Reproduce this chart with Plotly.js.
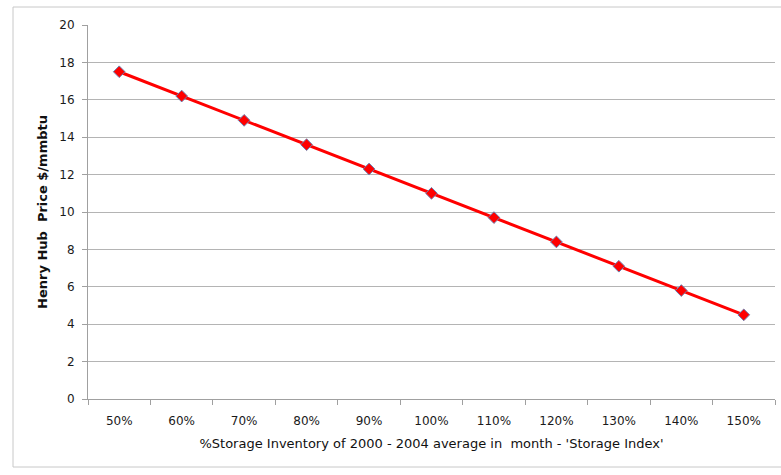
<!DOCTYPE html>
<html><head><meta charset="utf-8">
<script src="https://cdn.plot.ly/plotly-3.0.1.min.js"></script>
<style>html,body{margin:0;padding:0;background:#fff;}#chart{width:781px;height:475px;}</style>
</head><body><div id="chart"></div>
<script>
const categories = ['50%','60%','70%','80%','90%','100%','110%','120%','130%','140%','150%'];
const prices = [17.5, 16.2, 14.9, 13.6, 12.3, 11.0, 9.7, 8.4, 7.1, 5.8, 4.5];
const yTicks = [0,2,4,6,8,10,12,14,16,18,20];

const trace = {
  x: categories, y: prices, type: 'scatter', mode: 'lines+markers',
  line: {color: '#ff0000', width: 3},
  marker: {symbol: 'diamond', size: 9, color: '#ff0000', line: {color: '#6a7fb0', width: 1}},
  hoverinfo: 'skip'
};
const layout = {
  width: 781, height: 475,
  margin: {l: 88, r: 6, t: 25, b: 76},
  paper_bgcolor: '#fff', plot_bgcolor: '#fff',
  showlegend: false,
  font: {family: 'DejaVu Sans, Arial', size: 12, color: '#222'},
  xaxis: {
    type: 'category', range: [-0.5, 10.5], showgrid: false,
    showline: true, linecolor: '#a0a0a0', linewidth: 1,
    ticks: 'outside', tickson: 'boundaries', ticklen: 5, tickcolor: '#a0a0a0',
    ticklabelstandoff: 11,
    tickfont: {size: 12, color: '#1a1a1a'},
    title: {text: "%Storage Inventory of 2000 - 2004 average in  month - 'Storage Index'", font: {size: 13, color: '#111'}, standoff: 11},
    zeroline: false, fixedrange: true
  },
  yaxis: {
    range: [0, 20], tickvals: yTicks, ticktext: yTicks.map(String),
    showgrid: true, gridcolor: '#b4b4b4', gridwidth: 1,
    showline: true, linecolor: '#a0a0a0', linewidth: 1,
    ticks: 'outside', ticklen: 5, tickcolor: '#a0a0a0',
    ticklabelstandoff: 5,
    tickfont: {size: 12, color: '#1a1a1a'},
    title: {text: '<b>Henry Hub  Price $/mmbtu</b>', font: {size: 13, color: '#111'}, standoff: 8},
    zeroline: false, fixedrange: true
  },
  shapes: [{
    type: 'rect', xref: 'paper', yref: 'paper',
    x0: (13-88)/687, x1: 1.05, y0: -(467-399)/374, y1: 1 + (25-7)/374,
    line: {color: '#c8c8c8', width: 1}, fillcolor: 'rgba(0,0,0,0)', layer: 'below'
  }]
};
Plotly.newPlot('chart', [trace], layout, {displayModeBar: false, staticPlot: true});
</script></body></html>
